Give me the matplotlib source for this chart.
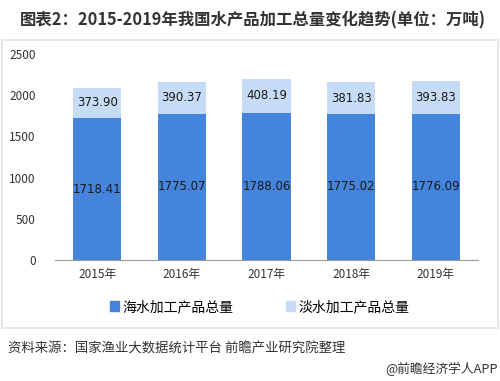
import matplotlib
matplotlib.use("Agg")
import matplotlib.pyplot as plt
from matplotlib.patches import Rectangle, Patch

plt.rcParams['font.family'] = ['Noto Sans CJK SC', 'DejaVu Sans']

years = ["2015年", "2016年", "2017年", "2018年", "2019年"]
seawater = [1718.41, 1775.07, 1788.06, 1775.02, 1776.09]
freshwater = [373.90, 390.37, 408.19, 381.83, 393.83]
series_names = ["海水加工产品总量", "淡水加工产品总量"]

DARK = "#4584dc"
LIGHT = "#c6dcf6"

fig = plt.figure(figsize=(5.0, 3.81), dpi=100)

# light frame around chart area
fig.patches.append(Rectangle((0.004, 1 - 328 / 381), 0.992, (328 - 40) / 381,
                             transform=fig.transFigure, fill=False,
                             edgecolor="#dfe5ec", linewidth=1.2))

ax = fig.add_axes([0.11, 1 - 260 / 381, 0.846, (260 - 54) / 381])
x = range(len(years))
ax.bar(x, seawater, width=0.57, color=DARK, label=series_names[0])
ax.bar(x, freshwater, width=0.57, bottom=seawater, color=LIGHT, label=series_names[1])

for i in x:
    ax.text(i, seawater[i] / 2, f"{seawater[i]:.2f}", ha="center", va="center",
            fontsize=8.5, color="#1a1a1a", family="DejaVu Sans")
    ax.text(i, seawater[i] + freshwater[i] / 2, f"{freshwater[i]:.2f}",
            ha="center", va="center", fontsize=8.5, color="#1a1a1a",
            family="DejaVu Sans")

ax.set_ylim(0, 2500)
ax.set_yticks(range(0, 2501, 500))
ax.set_xlim(-0.5, len(years) - 0.5)
ax.set_xticks(list(x))
ax.set_xticklabels(years, fontsize=8.5, color="#333333")
ax.tick_params(axis="y", labelsize=8.5, colors="#333333", length=0, pad=14)
ax.tick_params(axis="x", length=0, pad=6)
for s in ("top", "right", "left"):
    ax.spines[s].set_visible(False)
ax.spines["bottom"].set_color("#999999")

handles = [Patch(color=DARK), Patch(color=LIGHT)]
fig.legend(handles, series_names, loc="center", bbox_to_anchor=(0.52, 1 - 307 / 381),
           ncol=2, frameon=False, fontsize=10, handlelength=0.65, handleheight=0.65,
           handletextpad=0.25, columnspacing=3.8)

fig.text(0.04, 1 - 20 / 381, "图表2：2015-2019年我国水产品加工总量变化趋势(单位：万吨)",
         fontsize=11.8, fontweight="bold", color="#333333", va="center")
fig.text(0.016, 1 - 349 / 381, "资料来源：国家渔业大数据统计平台 前瞻产业研究院整理",
         fontsize=9.6, color="#333333", va="center")
fig.text(0.996, 1 - 369 / 381, "@前瞻经济学人APP", fontsize=9.2, color="#333333",
         va="center", ha="right")

fig.savefig("out.png", dpi=100)
